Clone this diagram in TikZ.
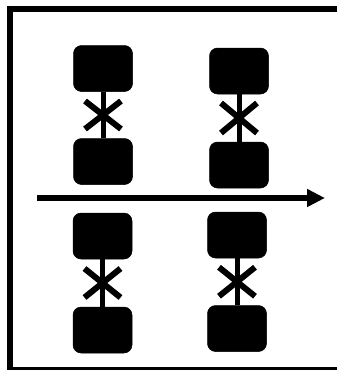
\documentclass[tikz,border=0pt]{standalone}
\usepackage{tikz}
\usetikzlibrary{arrows.meta, positioning, shapes.misc}

\begin{document}
\begin{tikzpicture}[x=1pt, y=-1pt,
    blk/.style={draw, fill=black, rounded corners=8pt, minimum width=59pt, minimum height=46pt, inner sep=0pt, line width=0.5pt},
    link/.style={line width=5pt},
    cut/.style={cross out, draw, line width=6pt, minimum width=30pt, minimum height=22pt, inner sep=0pt}]
    \useasboundingbox (0,0) rectangle (337,370);

    % Rahmen
    \draw[line width=6pt] (10,8.5) rectangle (350,369.5);

    % oben
    \node[blk] (a1) at (103, 68.5) {};
    \node[blk] (a2) at (103, 161.5) {};
    \node[blk] (b1) at (239, 71) {};
    \node[blk] (b2) at (239, 165) {};

    % unten
    \node[blk] (c1) at (102.5, 236) {};
    \node[blk] (c2) at (102.5, 330) {};
    \node[blk] (d1) at (237, 235) {};
    \node[blk] (d2) at (237, 328.5) {};

    % Verbindungen mit Kreuz
    \draw[link] (a1) -- node[cut] {} (a2);
    \draw[link] (b1) -- node[cut, minimum height=24pt] {} (b2);
    \draw[link] (c1) -- node[cut, minimum height=23pt] {} (c2);
    \draw[link] (d1) -- node[cut, minimum height=23pt] {} (d2);

    % Pfeil
    \coordinate (t0) at (37, 198);
    \coordinate (t1) at (325, 198);
    \draw[line width=5.5pt, -{Triangle[length=18pt, width=17pt]}] (t0) -- (t1);
\end{tikzpicture}
\end{document}
